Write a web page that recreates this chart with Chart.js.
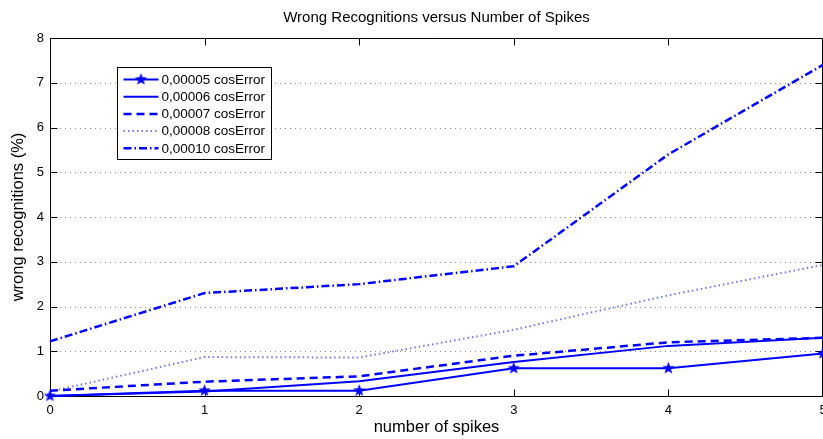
<!DOCTYPE html>
<html>
<head>
<meta charset="utf-8">
<script src="https://cdn.jsdelivr.net/npm/chart.js@4.4.0/dist/chart.umd.min.js"></script>
<style>
  html, body { margin: 0; padding: 0; background: #fff; }
</style>
</head>
<body>
<canvas id="spikeschart" width="823" height="439"></canvas>
<script>
const ctx = document.getElementById("spikeschart").getContext("2d");

// nombre de spikes (axe x) et erreurs en %
const spikes = [0, 1, 2, 3, 4, 5];
const err00005 = [0, 0.12, 0.12, 0.62, 0.62, 0.95];
const err00006 = [0, 0.1, 0.33, 0.76, 1.12, 1.3];
const err00007 = [0.12, 0.32, 0.44, 0.9, 1.2, 1.3];
const err00008 = [0.1, 0.87, 0.86, 1.48, 2.25, 2.93];
const err00010 = [1.22, 2.3, 2.5, 2.9, 5.4, 7.4];
const noms = ["0,00005 cosError", "0,00006 cosError", "0,00007 cosError", "0,00008 cosError", "0,00010 cosError"];
const yticks = [0, 1, 2, 3, 4, 5, 6, 7, 8];

const bleu = "#0000ff";
const police = "'Liberation Sans', Arial, Helvetica, sans-serif";

// etoile pleine a 5 branches pour les marqueurs
function etoile(r) {
  const c = document.createElement("canvas");
  const s = Math.ceil(r * 2 + 2);
  c.width = s;
  c.height = s;
  const g = c.getContext("2d");
  g.fillStyle = bleu;
  g.beginPath();
  for (let i = 0; i < 10; i++) {
    const a = -Math.PI / 2 + i * Math.PI / 5;
    const rr = i % 2 ? r * 0.42 : r;
    g.lineTo(s / 2 + rr * Math.cos(a), s / 2 + rr * Math.sin(a));
  }
  g.closePath();
  g.fill();
  return c;
}
const star = etoile(6.5);

function points(vals) {
  return spikes.map((x, i) => ({ x: x, y: vals[i] }));
}

const series = [
  { label: noms[0], data: points(err00005), borderColor: bleu, borderWidth: 2, borderDash: [], pointStyle: star, pointRadius: 6 },
  { label: noms[1], data: points(err00006), borderColor: bleu, borderWidth: 2, borderDash: [], pointRadius: 0 },
  { label: noms[2], data: points(err00007), borderColor: bleu, borderWidth: 2.5, borderDash: [8, 5], pointRadius: 0 },
  { label: noms[3], data: points(err00008), borderColor: "#7373ff", borderWidth: 2, borderDash: [1.5, 3], pointRadius: 0 },
  { label: noms[4], data: points(err00010), borderColor: bleu, borderWidth: 2.5, borderDash: [8, 3, 1.5, 3], pointRadius: 0 },
];
series.forEach((s) => {
  s.fill = false;
  s.tension = 0;
  s.clip = false;
  s.backgroundColor = bleu;
});

// cadre, grille pointillee, petits ticks interieurs et legende
const cadre = {
  id: "cadre",
  beforeDatasetsDraw(chart) {
    const { ctx, chartArea: a, scales: { x, y } } = chart;
    ctx.save();
    ctx.strokeStyle = "#8a8a8a";
    ctx.lineWidth = 1;
    ctx.setLineDash([1, 4]);
    yticks.forEach((v) => {
      if (v > 0 && v < 8) {
        const py = Math.round(y.getPixelForValue(v)) + 0.5;
        ctx.beginPath();
        ctx.moveTo(a.left, py);
        ctx.lineTo(a.right, py);
        ctx.stroke();
      }
    });
    ctx.setLineDash([]);
    ctx.strokeStyle = "#000";
    const l = Math.round(a.left) + 0.5, t = Math.round(a.top) + 0.5;
    const r = Math.round(a.right) - 0.5, b = Math.round(a.bottom) + 0.5;
    ctx.beginPath();
    ctx.moveTo(r, t); ctx.lineTo(l, t); ctx.lineTo(l, b); ctx.lineTo(r, b); ctx.lineTo(r, t);
    ctx.stroke();
    ctx.beginPath();
    spikes.forEach((v) => {
      const px = Math.round(x.getPixelForValue(v)) + 0.5;
      ctx.moveTo(px, b); ctx.lineTo(px, b - 7);
      ctx.moveTo(px, t); ctx.lineTo(px, t + 7);
    });
    yticks.forEach((v) => {
      const py = Math.round(y.getPixelForValue(v)) + 0.5;
      ctx.moveTo(l, py); ctx.lineTo(l + 7, py);
      ctx.moveTo(r, py); ctx.lineTo(r - 7, py);
    });
    ctx.stroke();
    ctx.restore();
  },
  afterDraw(chart) {
    const { ctx, chartArea: a } = chart;
    const bx = Math.round(a.left) + 67.5, by = Math.round(a.top) + 29.5;
    const bw = 154, bh = 92, pas = 17.2;
    ctx.save();
    ctx.fillStyle = "#fff";
    ctx.fillRect(bx, by, bw, bh);
    ctx.strokeStyle = "#000";
    ctx.lineWidth = 1;
    ctx.strokeRect(bx, by, bw, bh);
    ctx.font = "13.5px " + police;
    ctx.textBaseline = "middle";
    chart.data.datasets.forEach((ds, i) => {
      const ly = by + 12 + i * pas;
      ctx.strokeStyle = ds.borderColor;
      ctx.lineWidth = ds.borderWidth;
      ctx.setLineDash(ds.borderDash);
      ctx.beginPath();
      ctx.moveTo(bx + 6, ly);
      ctx.lineTo(bx + 41, ly);
      ctx.stroke();
      ctx.setLineDash([]);
      if (ds.pointRadius > 0) {
        ctx.drawImage(ds.pointStyle, bx + 23.5 - ds.pointStyle.width / 2, ly - ds.pointStyle.height / 2);
      }
      ctx.fillStyle = "#000";
      ctx.fillText(ds.label, bx + 44, ly + 0.5);
    });
    ctx.restore();
  },
};

let my_chart = new Chart(ctx, {
  type: "line",
  data: { datasets: series },
  options: {
    responsive: false,
    devicePixelRatio: 1,
    animation: false,
    layout: { autoPadding: false, padding: { left: 0, right: 0, top: 0, bottom: 0 } },
    plugins: {
      legend: { display: false },
      tooltip: { enabled: false },
      title: {
        display: true,
        fullSize: false,
        text: "Wrong Recognitions versus Number of Spikes",
        color: "#000",
        font: { family: police, size: 15, weight: "normal" },
        padding: { top: 9, bottom: 11 },
      },
    },
    scales: {
      x: {
        type: "linear",
        min: 0,
        max: 5,
        grid: { display: false, drawTicks: false, tickLength: 0 },
        border: { display: false },
        ticks: { stepSize: 1, color: "#000", padding: 7, font: { family: police, size: 13 } },
        title: {
          display: true,
          text: "number of spikes",
          color: "#000",
          font: { family: police, size: 16.5 },
          padding: { top: 1, bottom: 2 },
        },
        afterFit(s) {
          s.paddingLeft = 0;
          s.paddingRight = 0;
          s.height = 43;
        },
      },
      y: {
        min: 0,
        max: 8,
        grid: { display: false, drawTicks: false, tickLength: 0 },
        border: { display: false },
        ticks: { stepSize: 1, color: "#000", padding: 6, font: { family: police, size: 13 } },
        title: {
          display: true,
          text: "wrong recognitions (%)",
          color: "#000",
          font: { family: police, size: 16.5 },
          padding: { top: 9, bottom: 4 },
        },
        afterFit(s) {
          s.width = 50;
        },
      },
    },
  },
  plugins: [cadre],
});
</script>
</body>
</html>
